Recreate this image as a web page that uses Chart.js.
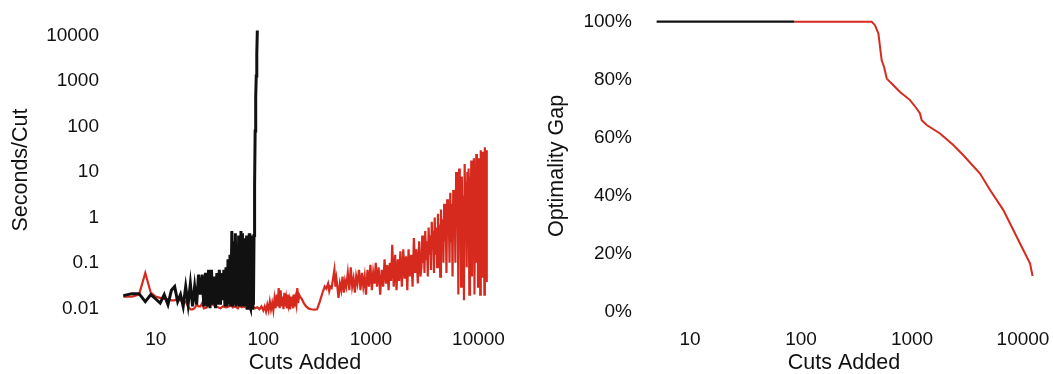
<!DOCTYPE html>
<html>
<head>
<meta charset="utf-8">
<script src="https://cdn.jsdelivr.net/npm/chart.js@4.4.1/dist/chart.umd.min.js"></script>
<style>
body { margin: 0; background: #fff; }
#wrap { position: relative; width: 1053px; height: 374px; }
canvas { position: absolute; top: 0; }
</style>
</head>
<body>
<div id="wrap">
  <canvas id="leftChart" width="530" height="374" style="left:0px"></canvas>
  <canvas id="rightChart" width="523" height="374" style="left:530px"></canvas>
</div>
<script>
// tick values
var cutTicks = [10, 100, 1000, 10000];
var secTicks = [0.01, 0.1, 1, 10, 100, 1000, 10000];
var secTickLabels = ["0.01", "0.1", "1", "10", "100", "1000", "10000"];
var gapTicks = [0, 20, 40, 60, 80, 100];
var gapTickLabels = ["0%", "20%", "40%", "60%", "80%", "100%"];

// seconds per cut, black run
var blackCuts = [5, 6, 7, 8, 9, 10, 11, 12, 13, 14, 15, 16, 17, 18, 19, 20, 21, 22, 23, 24,
    25, 26, 27, 28, 29, 30, 31, 32, 33, 34, 35, 36, 37, 38, 39, 40, 41, 42, 43, 44,
    45, 46, 47, 48, 49, 50, 51, 52, 53, 54, 55, 56, 57, 58, 59, 60, 61, 62, 63, 64,
    65, 66, 67, 68, 69, 70, 71, 72, 73, 74, 75, 76, 77, 78, 79, 80, 81, 82, 83, 84,
    85, 86, 87, 88];
var blackSecs = [0.019, 0.021, 0.021, 0.014, 0.02, 0.016, 0.013, 0.02, 0.012, 0.025,
    0.03, 0.014, 0.02, 0.011, 0.03, 0.012, 0.035, 0.011, 0.03, 0.012,
    0.055, 0.02, 0.055, 0.011, 0.06, 0.011, 0.07, 0.01, 0.07, 0.012,
    0.05, 0.01, 0.06, 0.012, 0.07, 0.012, 0.06, 0.015, 0.07, 0.011,
    0.08, 0.011, 0.12, 0.013, 0.15, 0.011, 0.5, 0.011, 0.3, 0.012,
    0.45, 0.011, 0.2, 0.012, 0.4, 0.011, 0.3, 0.5, 0.011, 0.45,
    0.012, 0.35, 0.011, 0.3, 0.012, 0.4, 0.01, 0.35, 0.011, 0.45,
    0.011, 0.01, 0.4, 0.011, 0.01, 0.3, 0.012, 0.4, 5, 80,
    450, 1300, 4000, 13000];

// seconds per cut, red run
var redCuts = [5, 6, 7, 8, 9, 10, 11, 12, 13, 14, 15, 16, 17, 18, 19, 20, 21, 22, 23, 24,
    25, 26, 27, 28, 30, 32, 34, 36, 38, 40, 42, 45, 48, 50, 52, 55, 58, 60, 63, 66,
    70, 73, 76, 80, 84, 88, 92, 96,
    100, 103, 106, 109, 112, 115, 118, 121, 124, 127, 130, 133, 136, 139, 142, 145, 148, 151, 154, 157,
    160, 163, 166, 169, 172, 175, 178, 181, 184, 187, 190, 193, 196, 199, 203, 207, 211, 215, 220,
    228, 238, 250, 265, 280, 298, 316, 335, 355, 372, 385, 400, 410, 420, 432, 445, 458, 468, 478, 488,
    500, 515, 530, 545, 560, 575, 590, 610, 630, 650, 670, 690, 710, 730, 750, 775, 800, 825, 850, 875,
    900, 930, 960, 990, 1020, 1050, 1080, 1110, 1140, 1180, 1220, 1260, 1300, 1340, 1380, 1420, 1460, 1500, 1540, 1580,
    1630, 1680, 1730, 1780, 1830, 1880, 1940, 2000, 2060, 2120, 2180, 2240, 2300, 2370, 2440, 2510, 2580, 2650, 2730, 2810,
    2890, 2950, 3000, 3050, 3100, 3150, 3200, 3260, 3320, 3380, 3440,
    3500, 3560, 3620, 3680, 3740, 3800, 3860, 3920, 3990, 4060,
    4130, 4200, 4270, 4340, 4410, 4480, 4560, 4640, 4720, 4800,
    4880, 4960, 5040, 5120, 5200, 5290, 5380, 5470, 5560, 5650,
    5740, 5830, 5920, 6010, 6100, 6200, 6300, 6400, 6500, 6600,
    6700, 6800, 6900, 7000, 7110, 7220, 7330, 7440, 7550, 7660,
    7770, 7880, 7990, 8100, 8220, 8340, 8460, 8580, 8700, 8820,
    8940, 9060, 9180, 9300, 9420, 9540, 9660, 9780, 9900, 10020,
    10140, 10260, 10380, 10500, 10620, 10740, 10860, 10980, 11100, 11220,
    11340, 11460, 11580, 11700, 11820, 11940];
var redSecs = [0.018, 0.018, 0.02, 0.06, 0.022, 0.018, 0.017, 0.016, 0.016, 0.015,
    0.015, 0.016, 0.015, 0.015, 0.014, 0.011, 0.0095, 0.0095, 0.01, 0.012,
    0.011, 0.011, 0.013, 0.01, 0.0105, 0.0155, 0.012, 0.011, 0.0105, 0.01,
    0.011, 0.0105, 0.011, 0.012, 0.0105, 0.011, 0.01, 0.0115, 0.0105, 0.011,
    0.01, 0.0115, 0.0105, 0.011, 0.01, 0.0105, 0.0095, 0.011,
    0.009, 0.011, 0.0085, 0.012, 0.009, 0.014, 0.0095, 0.013, 0.009, 0.016,
    0.01, 0.02, 0.011, 0.028, 0.01, 0.025, 0.011, 0.018, 0.0095, 0.022,
    0.011, 0.016, 0.01, 0.02, 0.012, 0.015, 0.0095, 0.018, 0.011, 0.014,
    0.01, 0.02, 0.011, 0.016, 0.012, 0.028, 0.013, 0.02, 0.018,
    0.016, 0.013, 0.011, 0.0098, 0.0095, 0.0093, 0.0095, 0.014, 0.022, 0.03,
    0.027, 0.035, 0.024, 0.03, 0.028, 0.045, 0.07, 0.03, 0.045, 0.03,
    0.017, 0.035, 0.025, 0.05, 0.022, 0.04, 0.03, 0.06, 0.025, 0.08,
    0.03, 0.045, 0.022, 0.05, 0.035, 0.07, 0.025, 0.06, 0.03, 0.05,
    0.02, 0.07, 0.03, 0.09, 0.025, 0.06, 0.035, 0.1, 0.03, 0.08,
    0.02, 0.07, 0.03, 0.12, 0.035, 0.09, 0.025, 0.1, 0.04, 0.25,
    0.03, 0.15, 0.025, 0.12, 0.04, 0.18, 0.03, 0.2, 0.045, 0.14,
    0.025, 0.2, 0.05, 0.15, 0.03, 0.35, 0.06, 0.2, 0.035, 0.3,
    0.05, 0.08, 0.4, 0.1, 0.25, 0.06, 0.5, 0.12, 0.3, 0.05, 0.6,
    0.15, 0.4, 0.07, 0.8, 0.2, 0.5, 0.06, 1.0, 0.15, 0.6,
    0.08, 1.2, 0.2, 0.7, 0.05, 1.5, 0.25, 0.9, 0.1, 2.0,
    0.3, 1.2, 0.06, 2.5, 0.4, 1.5, 0.1, 3.5, 0.3, 2.0,
    0.05, 4, 0.5, 2.5, 0.1, 10, 0.8, 5, 0.02, 12,
    1.0, 4, 0.03, 8, 0.5, 3, 0.015, 15, 1.2, 6,
    0.08, 10, 0.4, 12, 0.02, 8, 1.5, 18, 0.05, 6,
    0.8, 20, 0.02, 10, 2, 25, 0.1, 12, 0.03, 20,
    1.5, 8, 0.02, 30, 2, 15, 0.05, 28, 3, 20,
    0.02, 35, 5, 25, 0.04, 30];

// optimality gap (%)
var gapBlackCuts = [5, 87];
var gapBlack = [100, 100];
var gapRedCuts = [87, 433, 464, 498, 533, 560, 592, 679, 780, 960, 1100, 1180,
    1223, 1356, 1786, 2355, 2900, 4100, 5050, 6650, 9400, 11560, 12200];
var gapRed = [100, 100, 98.8, 95.9, 86.7, 84.4, 80.4, 78.1, 75.8, 73, 70.1, 68.4,
    66.1, 64.4, 61.5, 57.5, 54, 47.7, 42, 35.1, 23.6, 16.8, 12.4];

var RED = "#d62a1f";
var INK = "#111";
Chart.defaults.font.family = '"Liberation Sans", Arial, Helvetica, sans-serif';
Chart.defaults.color = INK;

function pairs(xs, ys) {
    return xs.map(function (x, i) { return { x: x, y: ys[i] }; });
}

function xAxis(min, max) {
    return {
        type: "logarithmic",
        min: min,
        max: max,
        grid: { display: false, drawTicks: false },
        border: { display: false },
        afterBuildTicks: function (s) { s.ticks = cutTicks.map(function (v) { return { value: v }; }); },
        afterFit: function (s) { s.height = 54; s.paddingLeft = 0; s.paddingRight = 0; },
        ticks: {
            font: { size: 19 }, padding: 8, autoSkip: false, maxRotation: 0,
            callback: function (v) { return String(v); }
        },
        title: { display: true, text: "Cuts Added", font: { size: 21.5, lineHeight: 1 }, padding: 0 }
    };
}

new Chart(document.getElementById("leftChart"), {
    type: "line",
    data: {
        datasets: [
            { data: pairs(blackCuts, blackSecs), borderColor: "#111", borderWidth: 3 },
            { data: pairs(redCuts, redSecs), borderColor: RED, borderWidth: 2.2 }
        ]
    },
    options: {
        responsive: false,
        animation: false,
        layout: { padding: { top: 20, left: 0, right: 30, bottom: 0 } },
        elements: { point: { radius: 0 }, line: { tension: 0 } },
        plugins: { legend: { display: false }, tooltip: { enabled: false } },
        scales: {
            x: xAxis(3.76, 15850),
            y: {
                type: "logarithmic",
                min: 0.00552,
                max: 22200,
                grid: { display: false, drawTicks: false },
                border: { display: false },
                afterBuildTicks: function (s) { s.ticks = secTicks.map(function (v) { return { value: v }; }); },
                afterFit: function (s) { s.width = 110; s.paddingTop = 0; s.paddingBottom = 0; },
                ticks: {
                    font: { size: 19 }, padding: 11, autoSkip: false,
                    callback: function (v, i) { return secTickLabels[i]; }
                },
                title: { display: true, text: "Seconds/Cut", font: { size: 21.5, lineHeight: 1.2 }, padding: { top: 8, bottom: 0 } }
            }
        }
    }
});

new Chart(document.getElementById("rightChart"), {
    type: "line",
    data: {
        datasets: [
            { data: pairs(gapBlackCuts, gapBlack), borderColor: "#111", borderWidth: 2.2 },
            { data: pairs(gapRedCuts, gapRed), borderColor: RED, borderWidth: 2 }
        ]
    },
    options: {
        responsive: false,
        animation: false,
        layout: { padding: { top: 12, left: 0, right: 10, bottom: 0 } },
        elements: { point: { radius: 0 }, line: { tension: 0 } },
        plugins: { legend: { display: false }, tooltip: { enabled: false } },
        scales: {
            x: xAxis(3.93, 15140),
            y: {
                type: "linear",
                min: -2.75,
                max: 103.34,
                grid: { display: false, drawTicks: false },
                border: { display: false },
                afterBuildTicks: function (s) { s.ticks = gapTicks.map(function (v) { return { value: v }; }); },
                afterFit: function (s) { s.width = 115; s.paddingTop = 0; s.paddingBottom = 0; },
                ticks: {
                    font: { size: 19 }, padding: 13, autoSkip: false,
                    callback: function (v, i) { return gapTickLabels[i]; }
                },
                title: { display: true, text: "Optimality Gap", font: { size: 21.5, lineHeight: 1.2 }, padding: { top: 14, bottom: 0 } }
            }
        }
    }
});
</script>
</body>
</html>
